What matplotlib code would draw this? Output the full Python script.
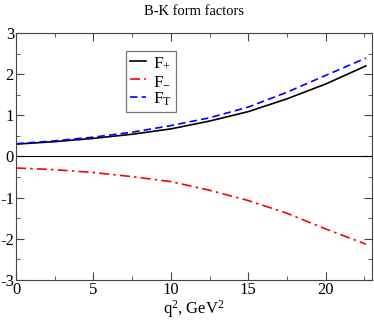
import numpy as np
import matplotlib
matplotlib.use('Agg')
import matplotlib.pyplot as plt

plt.rcParams['font.family'] = ['Liberation Serif', 'DejaVu Serif']
plt.rcParams['mathtext.fontset'] = 'custom'
plt.rcParams['mathtext.rm'] = 'Liberation Serif'
plt.rcParams['mathtext.it'] = 'Liberation Serif'
plt.rcParams['axes.unicode_minus'] = False

# q^2 in GeV^2 and the three form factors
q2 = [0.0, 2.5, 5.0, 7.5, 10.0, 12.5, 15.0, 17.5, 20.0, 22.6]
f_plus = [0.30, 0.36, 0.44, 0.54, 0.67, 0.86, 1.09, 1.40, 1.76, 2.20]
f_minus = [-0.28, -0.32, -0.39, -0.49, -0.61, -0.82, -1.07, -1.38, -1.76, -2.13]
f_t = [0.31, 0.38, 0.47, 0.59, 0.75, 0.94, 1.20, 1.56, 1.97, 2.39]

fig = plt.figure(figsize=(3.74, 3.2), dpi=100)
ax = fig.add_axes([0.043, 0.125, 0.952, 0.772])

ax.axhline(0, color='black', lw=0.8)
ax.plot(q2, f_plus, color='black', lw=1.2, label=r'F$_{+}$')
ax.plot(q2, f_minus, color='red', lw=1.2, ls=(0, (6, 2.5, 1.5, 2.5)), label=r'F$_{-}$')
ax.plot(q2, f_t, color='blue', lw=1.2, ls=(0, (4.5, 2.5)), label=r'F$_{\rm T}$')

ax.set_xlim(0, 23)
ax.set_ylim(-3, 3)
ax.set_xticks([0, 5, 10, 15, 20])
ax.set_xticks(np.arange(0, 23, 2.5), minor=True)
ax.set_yticks([-3, -2, -1, 0, 1, 2, 3])
ax.set_yticks(np.arange(-3, 3.01, 0.5), minor=True)
ax.tick_params(which='both', direction='in', top=True, right=True,
               labelsize=12, color='#444444', pad=1.5)
ax.tick_params(which='major', length=6)
ax.tick_params(which='minor', length=3)
for s in ax.spines.values():
    s.set_color('#444444')

ax.set_title('B-K form factors', fontsize=10.5, pad=13)
ax.set_xlabel(r'q$^2$, GeV$^2$', fontsize=12, labelpad=0)

leg = ax.legend(loc='upper left', bbox_to_anchor=(0.309, 0.927), fontsize=12.5,
                frameon=True, fancybox=False, edgecolor='#555555',
                handlelength=0.9, handletextpad=0.4, borderpad=0.25,
                labelspacing=0.08, borderaxespad=0)
leg.get_frame().set_linewidth(0.9)

fig.savefig('out.png', dpi=100)
